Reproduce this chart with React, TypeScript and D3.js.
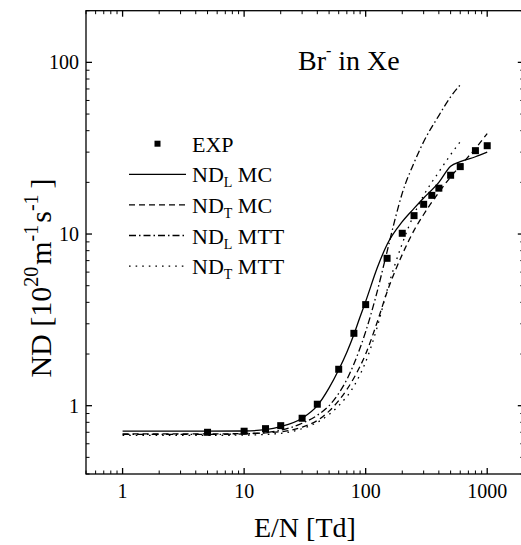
import React from 'react';
import * as d3 from 'd3';

// ---- data ----
const expEN = [5, 10, 15, 20, 30, 40, 60, 80, 100, 150, 200, 250, 300, 350, 400, 500, 600, 800, 1000];
const expND = [0.70, 0.71, 0.735, 0.765, 0.845, 1.02, 1.63, 2.64, 3.88, 7.22, 10.1, 12.8, 14.9, 16.8, 18.5, 22.0, 24.7, 30.6, 32.7];

const ndlMcEN = [1, 5, 10, 15, 20, 30, 40, 50, 60, 70, 80, 90, 100, 125, 150, 200, 250, 300, 400, 500, 600, 800, 1000];
const ndlMcND = [0.71, 0.71, 0.712, 0.725, 0.755, 0.845, 1.0, 1.27, 1.62, 2.05, 2.6, 3.3, 4.05, 6.4, 8.7, 11.8, 14.1, 16.2, 20.0, 24.8, 26.4, 28.2, 30.0];

const ndtMcEN = [1, 5, 10, 20, 30, 40, 50, 60, 80, 100, 125, 150, 200, 250, 300, 400, 500, 600, 800, 1000];
const ndtMcND = [0.685, 0.685, 0.688, 0.705, 0.75, 0.82, 0.93, 1.07, 1.45, 2.0, 3.1, 4.6, 7.6, 10.5, 13.0, 17.5, 21.5, 25.0, 31.5, 38.5];

const ndlMttEN = [1, 5, 10, 20, 30, 40, 50, 60, 70, 80, 100, 120, 150, 175, 200, 250, 300, 400, 500, 600];
const ndlMttND = [0.68, 0.68, 0.685, 0.72, 0.79, 0.88, 1.0, 1.18, 1.42, 1.75, 2.7, 4.2, 7.9, 12.3, 17.3, 26.0, 34.5, 49.0, 63.0, 74.0];

const ndtMttEN = [1, 5, 10, 20, 30, 40, 50, 60, 80, 100, 125, 150, 200, 250, 300, 400, 500, 600];
const ndtMttND = [0.672, 0.672, 0.674, 0.69, 0.735, 0.8, 0.89, 1.0, 1.3, 1.8, 2.9, 4.7, 8.8, 13.0, 16.8, 23.0, 29.0, 34.5];

const xMajorTicks = [1, 10, 100, 1000];
const xTickLabels = ['1', '10', '100', '1000'];
const yMajorTicks = [1, 10, 100];
const yTickLabels = ['1', '10', '100'];

const legendLabels = [
  { main: 'ND', sub: 'L', rest: ' MC', dash: '' },
  { main: 'ND', sub: 'T', rest: ' MC', dash: '6,4' },
  { main: 'ND', sub: 'L', rest: ' MTT', dash: '7,3,1.5,3' },
  { main: 'ND', sub: 'T', rest: ' MTT', dash: '1.6,5' },
];

const W = 521;
const H = 545;
const FONT = '"Liberation Serif", "Times New Roman", serif';

export default function App() {
  const x = d3.scaleLog().domain([0.5, 2000]).range([86, 523.8]);
  const y = d3.scaleLog().domain([0.4, 200]).range([474, 10.7]);
  const [x0, x1] = x.range();
  const [y0, y1] = y.range();

  const line = (xs: number[], ys: number[]) =>
    d3
      .line<number>()
      .x((_, i) => x(xs[i]))
      .y((v) => y(v))
      .curve(d3.curveMonotoneX)(ys) || '';

  const series = [
    { xs: ndlMcEN, ys: ndlMcND, dash: legendLabels[0].dash },
    { xs: ndtMcEN, ys: ndtMcND, dash: legendLabels[1].dash },
    { xs: ndlMttEN, ys: ndlMttND, dash: legendLabels[2].dash },
    { xs: ndtMttEN, ys: ndtMttND, dash: legendLabels[3].dash },
  ];

  const xMinor: number[] = [];
  [0.1, 1, 10, 100, 1000].forEach((d) => {
    for (let k = 2; k <= 9; k++) {
      const v = d * k;
      if (v >= 0.5 && v <= 2000) xMinor.push(v);
    }
  });
  const yMinor: number[] = [];
  [0.1, 1, 10, 100].forEach((d) => {
    for (let k = 2; k <= 9; k++) {
      const v = d * k;
      if (v >= 0.4 && v <= 200) yMinor.push(v);
    }
  });

  const major = 6;
  const minor = 3.5;
  const sw = 1.3;

  const legX0 = 129;
  const legX1 = 186;
  const legTextX = 192;
  const legY0 = 143.7;
  const legStep = 30.6;

  return (
    <svg
      width={W}
      height={H}
      style={{ position: 'absolute', left: 0, top: 0, background: '#fff' }}
      fontFamily={FONT}
    >
      <rect x={0} y={0} width={W} height={H} fill="#fff" />
      {/* frame */}
      <rect x={x0} y={y1} width={x1 - x0} height={y0 - y1} fill="none" stroke="#000" strokeWidth={sw} />
      {/* x ticks */}
      {xMajorTicks.map((v) => (
        <g key={'xm' + v}>
          <line x1={x(v)} x2={x(v)} y1={y0} y2={y0 - major} stroke="#000" strokeWidth={sw} />
          <line x1={x(v)} x2={x(v)} y1={y1} y2={y1 + major} stroke="#000" strokeWidth={sw} />
        </g>
      ))}
      {xMinor.map((v) => (
        <g key={'xn' + v}>
          <line x1={x(v)} x2={x(v)} y1={y0} y2={y0 - minor} stroke="#000" strokeWidth={1} />
          <line x1={x(v)} x2={x(v)} y1={y1} y2={y1 + minor} stroke="#000" strokeWidth={1} />
        </g>
      ))}
      {yMajorTicks.map((v) => (
        <g key={'ym' + v}>
          <line x1={x0} x2={x0 + major} y1={y(v)} y2={y(v)} stroke="#000" strokeWidth={sw} />
          <line x1={x1} x2={x1 - major} y1={y(v)} y2={y(v)} stroke="#000" strokeWidth={sw} />
        </g>
      ))}
      {yMinor.map((v) => (
        <g key={'yn' + v}>
          <line x1={x0} x2={x0 + minor} y1={y(v)} y2={y(v)} stroke="#000" strokeWidth={1} />
          <line x1={x1} x2={x1 - minor} y1={y(v)} y2={y(v)} stroke="#000" strokeWidth={1} />
        </g>
      ))}
      {/* tick labels */}
      {xMajorTicks.map((v, i) => (
        <text key={'xl' + v} x={x(v)} y={498} textAnchor="middle" fontSize={20}>
          {xTickLabels[i]}
        </text>
      ))}
      {yMajorTicks.map((v, i) => (
        <text key={'yl' + v} x={79} y={y(v) + 7} textAnchor="end" fontSize={20}>
          {yTickLabels[i]}
        </text>
      ))}
      {/* axis titles */}
      <text x={(x0 + x1) / 2} y={537} textAnchor="middle" fontSize={28}>
        E/N [Td]
      </text>
      <text transform="translate(51,278) rotate(-90)" textAnchor="middle" fontSize={30}>
        ND [10
        <tspan fontSize={20} dy={-13}>20</tspan>
        <tspan dy={13} dx={2}>m</tspan>
        <tspan fontSize={20} dy={-13}>-1</tspan>
        <tspan dy={13} dx={2}>s</tspan>
        <tspan fontSize={20} dy={-13}>-1</tspan>
        <tspan dy={13} dx={6}>]</tspan>
      </text>
      {/* annotation */}
      <text x={298} y={70} fontSize={28}>
        Br<tspan fontSize={16} dy={-14}>-</tspan>
        <tspan dy={14}> in Xe</tspan>
      </text>
      {/* curves */}
      {series.map((s, i) => (
        <path
          key={'s' + i}
          d={line(s.xs, s.ys)}
          fill="none"
          stroke="#000"
          strokeWidth={1.3}
          strokeDasharray={s.dash || undefined}
        />
      ))}
      {/* experimental points */}
      {expEN.map((v, i) => (
        <rect key={'e' + i} x={x(v) - 3.5} y={y(expND[i]) - 3.5} width={7} height={7} fill="#000" />
      ))}
      {/* legend */}
      <rect x={(legX0 + legX1) / 2 - 3} y={legY0 - 3} width={6} height={6} fill="#000" />
      <text x={legTextX} y={legY0 + 8} fontSize={22}>EXP</text>
      {legendLabels.map((l, i) => {
        const ly = legY0 + legStep * (i + 1);
        return (
          <g key={'lg' + i}>
            <line
              x1={legX0}
              x2={legX1}
              y1={ly}
              y2={ly}
              stroke="#000"
              strokeWidth={1.3}
              strokeDasharray={l.dash || undefined}
            />
            <text x={legTextX} y={ly + 8} fontSize={22}>
              {l.main}
              <tspan fontSize={14} dy={5}>{l.sub}</tspan>
              <tspan dy={-5}>{l.rest}</tspan>
            </text>
          </g>
        );
      })}
    </svg>
  );
}
